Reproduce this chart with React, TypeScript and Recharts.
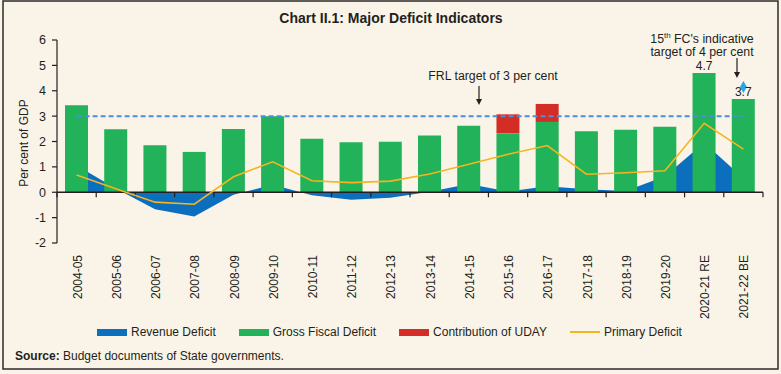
import React from 'react';
import { ComposedChart, Bar, Area, Line, XAxis, YAxis, ReferenceLine, LabelList } from 'recharts';

// per cent of GDP
const years = [
  '2004-05', '2005-06', '2006-07', '2007-08', '2008-09', '2009-10', '2010-11', '2011-12', '2012-13',
  '2013-14', '2014-15', '2015-16', '2016-17', '2017-18', '2018-19', '2019-20', '2020-21 RE', '2021-22 BE',
];
const revenueDeficit = [1.05, 0.15, -0.67, -0.96, -0.1, 0.3, -0.12, -0.3, -0.22, 0.02, 0.33, 0.03, 0.24, 0.12, 0.05, 0.63, 1.95, 0.55];
const grossFiscalDeficit = [3.43, 2.48, 1.85, 1.59, 2.49, 3.0, 2.11, 1.97, 1.99, 2.24, 2.62, 2.32, 2.77, 2.4, 2.46, 2.58, 4.7, 3.67];
const udayContribution = [0, 0, 0, 0, 0, 0, 0, 0, 0, 0, 0, 0.75, 0.71, 0, 0, 0, 0, 0];
const primaryDeficit = [0.68, 0.14, -0.39, -0.47, 0.61, 1.2, 0.45, 0.38, 0.44, 0.72, 1.1, 1.5, 1.84, 0.71, 0.77, 0.85, 2.72, 1.7];
const barLabels = ['', '', '', '', '', '', '', '', '', '', '', '', '', '', '', '', '4.7', '3.7'];
const fcTarget = [null, null, null, null, null, null, null, null, null, null, null, null, null, null, null, null, null, 4.15];
const frlTarget = 3;
const yTicks = [-2, -1, 0, 1, 2, 3, 4, 5, 6];

const legendItems = [
  { name: 'Revenue Deficit', color: '#0B6FBE', kind: 'rect' },
  { name: 'Gross Fiscal Deficit', color: '#22B259', kind: 'rect' },
  { name: 'Contribution of UDAY', color: '#D42D25', kind: 'rect' },
  { name: 'Primary Deficit', color: '#F6B520', kind: 'line' },
];

const data = years.map((year, i) => ({
  year,
  rd: revenueDeficit[i],
  gfd: grossFiscalDeficit[i],
  uday: udayContribution[i],
  pd: primaryDeficit[i],
  lbl: barLabels[i],
  fc: fcTarget[i],
}));

const FONT = '"Liberation Sans", Arial, Helvetica, sans-serif';
const INK = '#231F20';

const YearTick = (props: any) => {
  const { x, y, payload } = props;
  return (
    <text x={x} y={y} transform={`rotate(-90, ${x}, ${y})`} textAnchor="end" dx={-4} dy={5}
      fontSize={12} fill={INK} fontFamily={FONT}>
      {payload.value}
    </text>
  );
};

const BarValue = (props: any) => {
  const { x, y, width, value } = props;
  if (!value) return null;
  return (
    <text x={x + width / 2} y={y - 3} textAnchor="middle" fontSize={12} fill={INK} fontFamily={FONT}>
      {value}
    </text>
  );
};

const Diamond = (props: any) => {
  const { cx, cy, value } = props;
  if (value == null || !isFinite(cy)) return null;
  return <polygon points={`${cx},${cy - 6} ${cx + 3.5},${cy} ${cx},${cy + 6} ${cx - 3.5},${cy}`} fill="#2AA7E1" />;
};

const Arrow = ({ x, y1, y2 }: { x: number; y1: number; y2: number }) => (
  <g>
    <line x1={x} y1={y1} x2={x} y2={y2 - 4} stroke={INK} strokeWidth={1.2} />
    <polygon points={`${x - 3},${y2 - 6} ${x + 3},${y2 - 6} ${x},${y2}`} fill={INK} />
  </g>
);

export default function App() {
  return (
    <div style={{ position: 'absolute', left: 0, top: 0, width: 781, height: 374, background: '#FAF4E8', fontFamily: FONT, color: INK }}>
      <ComposedChart width={781} height={374} data={data} margin={{ top: 40, right: 18, bottom: 51, left: 0 }}
        style={{ position: 'absolute', left: 0, top: 0 }}>
        <XAxis dataKey="year" interval={0} height={80} axisLine={false} tickLine={false}
          tickSize={6} tickMargin={2} tick={<YearTick />} />
        <YAxis domain={[-2, 6]} ticks={yTicks} interval={0} width={57} tickSize={5} tickMargin={6}
          axisLine={{ stroke: INK, strokeWidth: 1.2 }} tickLine={{ stroke: INK, strokeWidth: 1.2 }}
          tick={{ fontSize: 12.5, fill: INK, fontFamily: FONT }} />
        <Area dataKey="rd" type="linear" baseValue={0} fill="#0B6FBE" fillOpacity={1} stroke="none" isAnimationActive={false} />
        <Bar dataKey="gfd" stackId="a" fill="#22B259" barSize={23} isAnimationActive={false}>
          <LabelList dataKey="lbl" content={<BarValue />} />
        </Bar>
        <Bar dataKey="uday" stackId="a" fill="#D42D25" barSize={23} isAnimationActive={false} />
        <ReferenceLine y={0} stroke={INK} strokeWidth={1.5} />
        {years.map((yr) => (
          <ReferenceLine key={yr} position="start" segment={[{ x: yr, y: 0 }, { x: yr, y: -0.2 }]} stroke={INK} strokeWidth={1.2} />
        ))}
        <ReferenceLine position="end" segment={[{ x: years[years.length - 1], y: 0 }, { x: years[years.length - 1], y: -0.2 }]}
          stroke={INK} strokeWidth={1.2} />
        <ReferenceLine segment={[{ x: years[0], y: frlTarget }, { x: years[years.length - 1], y: frlTarget }]}
          stroke="#4A8FDB" strokeWidth={2} strokeDasharray="5 3" />
        <Line dataKey="pd" type="linear" stroke="#F6B520" strokeWidth={1.6} dot={false} isAnimationActive={false} />
        <Line dataKey="fc" stroke="none" dot={<Diamond />} activeDot={false} isAnimationActive={false} />
      </ComposedChart>

      <svg width={781} height={374} style={{ position: 'absolute', left: 0, top: 0, pointerEvents: 'none' }} fontFamily={FONT}>
        <rect x={3} y={1} width={775} height={368} fill="none" stroke="#2B2B2B" strokeWidth={1.5} />
        <text x={391} y={23} textAnchor="middle" fontSize={14} fontWeight="bold" fill={INK}>
          Chart II.1: Major Deficit Indicators
        </text>
        <text x={28} y={143} transform="rotate(-90, 28, 143)" textAnchor="middle" fontSize={12} fill={INK}>
          Per cent of GDP
        </text>
        <text x={493} y={80} textAnchor="middle" fontSize={12.3} fill={INK}>FRL target of 3 per cent</text>
        <Arrow x={479} y1={86} y2={105} />
        <text x={702} y={43} textAnchor="middle" fontSize={12.3} fill={INK}>
          15<tspan fontSize={8} dy={-5}>th</tspan><tspan dy={5}> FC's indicative</tspan>
        </text>
        <text x={702} y={56} textAnchor="middle" fontSize={12.3} fill={INK}>target of 4 per cent</text>
        <Arrow x={737} y1={58} y2={78} />
      </svg>

      <div style={{ position: 'absolute', left: 97, top: 325, display: 'flex', gap: 23, fontSize: 12, lineHeight: '14px' }}>
        {legendItems.map((it) => (
          <div key={it.name} style={{ display: 'flex', alignItems: 'center' }}>
            <span style={{ display: 'inline-block', width: 30, height: it.kind === 'rect' ? 7 : 2, background: it.color, marginRight: 4 }} />
            <span>{it.name}</span>
          </div>
        ))}
      </div>
      <div style={{ position: 'absolute', left: 15, top: 349, fontSize: 12, lineHeight: '14px' }}>
        <b>Source:</b> Budget documents of State governments.
      </div>
    </div>
  );
}
